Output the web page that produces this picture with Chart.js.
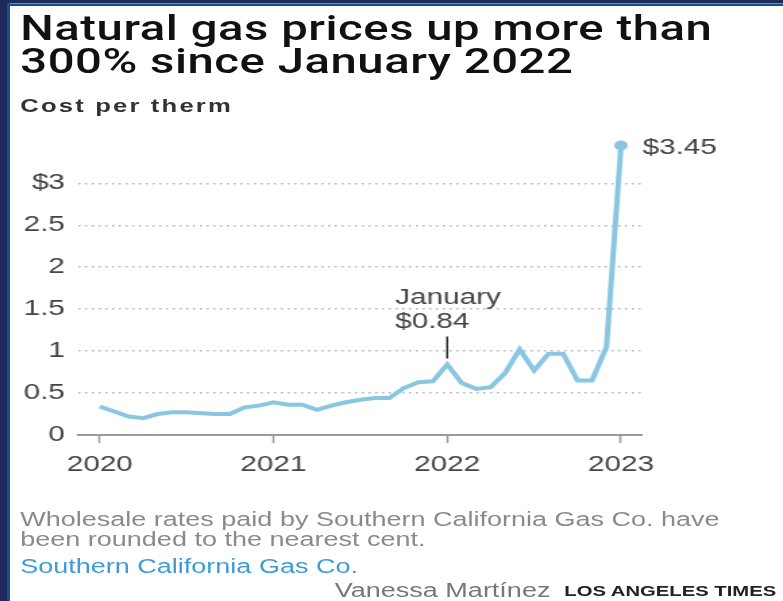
<!DOCTYPE html>
<html>
<head>
<meta charset="utf-8">
<script src="https://cdn.jsdelivr.net/npm/chart.js@4.4.1/dist/chart.umd.min.js"></script>
<style>
  html, body { margin: 0; padding: 0; background: #fff; }
  body { width: 783px; height: 601px; overflow: hidden; position: relative; font-family: "Liberation Sans", Arial, sans-serif; }
  /* the whole graphic is a little stretched sideways, like the original */
  #page { position: absolute; left: 0; top: 0; width: 580px; height: 601px; transform: scaleX(1.35); transform-origin: 0 0; }
  #page canvas { position: absolute; left: 0; top: 0; }
  .txt { position: absolute; white-space: nowrap; }
  #title { left: 15px; top: 12px; font-family: Roboto, "Liberation Sans", sans-serif; font-size: 35px; line-height: 33px; font-weight: 500; letter-spacing: 0.4px; color: #111; }
  #unit { left: 15px; top: 96px; font-size: 19px; line-height: 20px; font-weight: bold; color: #333; letter-spacing: 1.6px; }
  #note { left: 15px; top: 509px; font-size: 20px; line-height: 20px; color: #8a8a8a; }
  #source { left: 15px; top: 556px; font-size: 20px; line-height: 20px; color: #3f9bd6; }
  #credit { left: 248px; top: 580px; font-size: 20px; line-height: 20px; color: #777; }
  #logo { left: 418px; top: 583px; font-size: 15px; line-height: 15px; font-weight: bold; color: #222; }
  .edge { position: absolute; z-index: 5; }
</style>
</head>
<body>
<div id="page">
  <canvas id="gasChart" width="580" height="500" style="width:580px;height:500px"></canvas>
  <div class="txt" id="title">Natural gas prices up more than<br>300% since January 2022</div>
  <div class="txt" id="unit">Cost per therm</div>
  <div class="txt" id="note">Wholesale rates paid by Southern California Gas Co. have<br>been rounded to the nearest cent.</div>
  <div class="txt" id="source">Southern California Gas Co.</div>
  <div class="txt" id="credit">Vanessa Martínez</div>
  <div class="txt" id="logo">LOS ANGELES TIMES</div>
</div>
<div class="edge" style="left:0;top:0;width:783px;height:3px;background:#1f2a5a"></div>
<div class="edge" style="left:7px;top:3px;width:776px;height:1px;background:#6d8fbd"></div>
<div class="edge" style="left:7px;top:4px;width:776px;height:2px;background:#0f5193"></div>
<div class="edge" style="left:0;top:0;width:7px;height:601px;background:#1f2a5a"></div>
<div class="edge" style="left:7px;top:3px;width:3px;height:598px;background:#0f5193"></div>

<script>
// monthly wholesale price, Jan 2020 .. Jan 2023
const months = [
  '2020-01', '2020-02', '2020-03', '2020-04', '2020-05', '2020-06', '2020-07', '2020-08', '2020-09', '2020-10', '2020-11', '2020-12',
  '2021-01', '2021-02', '2021-03', '2021-04', '2021-05', '2021-06', '2021-07', '2021-08', '2021-09', '2021-10', '2021-11', '2021-12',
  '2022-01', '2022-02', '2022-03', '2022-04', '2022-05', '2022-06', '2022-07', '2022-08', '2022-09', '2022-10', '2022-11', '2022-12',
  '2023-01'
];
const prices = [
  0.34, 0.28, 0.22, 0.20, 0.25, 0.27, 0.27, 0.26, 0.25, 0.25, 0.33, 0.35,
  0.39, 0.36, 0.36, 0.30, 0.35, 0.39, 0.42, 0.44, 0.44, 0.56, 0.63, 0.64,
  0.84, 0.62, 0.55, 0.57, 0.74, 1.02, 0.77, 0.97, 0.97, 0.65, 0.65, 1.05,
  3.45
];
const yearTicks = [0, 12, 24, 36];
const yearLabels = ['2020', '2021', '2022', '2023'];
const priceTicks = [0, 0.5, 1, 1.5, 2, 2.5, 3];

const lineBlue = '#88c6e2';
const tickFont = { family: '"Liberation Sans", Arial, sans-serif', size: 22 };

// "January $0.84" callout and the "$3.45" end label
const callouts = {
  id: 'callouts',
  afterDatasetsDraw(chart) {
    const { ctx, scales: { x, y } } = chart;
    const jan = months.indexOf('2022-01');
    const jx = x.getPixelForValue(jan);
    const jy = y.getPixelForValue(prices[jan]);
    ctx.save();
    ctx.strokeStyle = '#222';
    ctx.lineWidth = 1.5;
    ctx.beginPath();
    ctx.moveTo(jx, jy - 6);
    ctx.lineTo(jx, jy - 28);
    ctx.stroke();

    ctx.fillStyle = '#444';
    ctx.font = '22px "Liberation Sans", Arial, sans-serif';
    ctx.textAlign = 'left';
    ctx.textBaseline = 'alphabetic';
    ctx.fillText('January', jx - 38.5, jy - 61);
    ctx.fillText('$' + prices[jan].toFixed(2), jx - 38.5, jy - 37);

    const last = prices.length - 1;
    const lx = x.getPixelForValue(last);
    const ly = y.getPixelForValue(prices[last]);
    ctx.textBaseline = 'middle';
    ctx.fillText('$' + prices[last].toFixed(2), lx + 16, ly + 2);
    ctx.restore();
  }
};

new Chart(document.getElementById('gasChart'), {
  type: 'line',
  data: {
    labels: months,
    datasets: [{
      data: months.map((m, i) => ({ x: i, y: prices[i] })),
      borderColor: lineBlue,
      backgroundColor: lineBlue,
      borderWidth: 4,
      tension: 0,
      pointRadius: ctx => ctx.dataIndex === prices.length - 1 ? 5 : 0,
      pointBorderWidth: 0,
      clip: false
    }]
  },
  options: {
    responsive: false,
    animation: false,
    events: [],
    layout: { padding: { top: 133, right: 105, bottom: 20, left: 0 } },
    plugins: { legend: { display: false }, tooltip: { enabled: false } },
    scales: {
      x: {
        type: 'linear',
        min: -1.5,
        max: 37.4,
        afterBuildTicks: s => { s.ticks = yearTicks.map(v => ({ value: v })); },
        afterFit: s => { s.height = 45; },
        grid: { drawOnChartArea: false, drawTicks: true, tickLength: 8, tickWidth: 1.5, tickColor: '#9a9a9a' },
        border: { color: '#9a9a9a', width: 2 },
        ticks: {
          color: '#444', font: tickFont, padding: 9, maxRotation: 0, autoSkip: false,
          callback: v => yearLabels[yearTicks.indexOf(v)]
        }
      },
      y: {
        min: 0,
        max: 3.6,
        afterBuildTicks: s => { s.ticks = priceTicks.map(v => ({ value: v })); },
        afterFit: s => { s.width = 57.8; },
        grid: {
          drawTicks: false,
          lineWidth: 1.5,
          color: ctx => (ctx.tick && ctx.tick.value === 0) ? 'rgba(0,0,0,0)' : '#b3b3b3'
        },
        border: { display: false, dash: [1.5, 3.5] },
        ticks: {
          color: '#444', font: tickFont, padding: 9.7,
          callback: v => v === 3 ? '$3' : String(v)
        }
      }
    }
  },
  plugins: [callouts]
});
</script>
</body>
</html>
